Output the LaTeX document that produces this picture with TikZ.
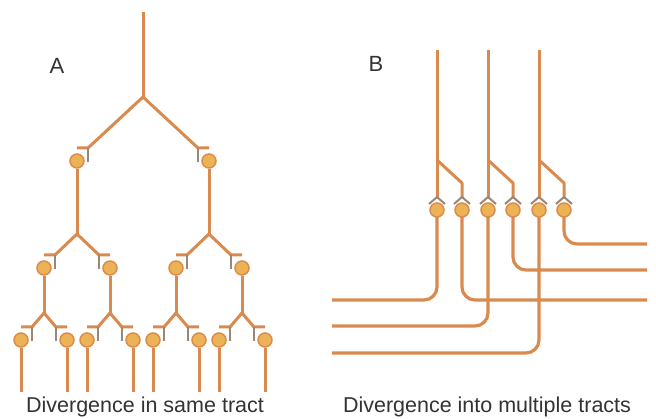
\documentclass[tikz,border=0pt]{standalone}
\usepackage{fontspec}
\setmainfont{Liberation Sans}
\definecolor{axc}{HTML}{D98A4E}
\definecolor{somaf}{HTML}{EBB256}
\definecolor{somad}{HTML}{DB8C4C}
\definecolor{tickc}{HTML}{9C8676}
\definecolor{txt}{HTML}{333333}
% #1 parent coordinate, #2 child x, #3 dir, #4 bar y, #5 soma y, #6 end y, #7 child name
\newcommand\divbranch[7]{%
  \coordinate (#7c) at ({#2-(#3)*11},#4);
  \coordinate (#7b) at (#2,#4);
  \coordinate (#7t) at ({#2-(#3)*11},{#4+14});
  \coordinate (#7e) at (#2,#6);
  \draw[axon] (#1) -- (#7c) -- (#7b);
  \draw[tickl] (#7c) -- (#7t);
  \node[soma] (#7) at (#2,#5) {};
  \draw[axon] (#7.south) -- (#7e);
}
\begin{document}
\begin{tikzpicture}[x=1pt,y=-1pt,
  axon/.style={draw=axc,line width=3pt,line join=round},
  tickl/.style={draw=tickc,line width=2pt},
  soma/.style={circle,draw=somad,fill=somaf,line width=1.5pt,minimum size=14pt,inner sep=0pt},
  lbl/.style={text=txt,font=\fontsize{22}{26}\selectfont},
  captxt/.style={text=txt,font=\fontsize{21.5}{26}\selectfont},
  outl/.style={draw=axc,line width=3.2pt,rounded corners=13pt},
]
\useasboundingbox (0,0) rectangle (656,419);

% ---------------- Panel A ----------------
\node[lbl] (labA) at (57,66) {A};
\coordinate (rtop) at (143,12);
\coordinate (r) at (143,97);
\draw[axon] (rtop) -- (r);
% level 1
\divbranch{r}{77}{-1}{148}{161}{234}{a}
\divbranch{r}{209}{1}{148}{161}{234}{b}
% level 2
\divbranch{ae}{44}{-1}{255}{268}{313}{aa}
\divbranch{ae}{110}{1}{255}{268}{313}{ab}
\divbranch{be}{176}{-1}{255}{268}{313}{ba}
\divbranch{be}{242}{1}{255}{268}{313}{bb}
% level 3
\divbranch{aae}{21}{-1}{327}{340}{392}{aaa}
\divbranch{aae}{67}{1}{327}{340}{392}{aab}
\divbranch{abe}{87}{-1}{327}{340}{392}{aba}
\divbranch{abe}{133}{1}{327}{340}{392}{abb}
\divbranch{bae}{153}{-1}{327}{340}{392}{baa}
\divbranch{bae}{199}{1}{327}{340}{392}{bab}
\divbranch{bbe}{219}{-1}{327}{340}{392}{bba}
\divbranch{bbe}{265}{1}{327}{340}{392}{bbb}
\node[captxt] (capA) at (145,407) {Divergence in same tract};

% ---------------- Panel B ----------------
\node[lbl] (labB) at (376,64) {B};
\foreach \x/\n in {437/p,488/q,539/r}{
  \coordinate (\n top) at (\x,50);
  \coordinate (\n br) at (\x,160);
  \coordinate (\n end) at (\x,197);
  \coordinate (\n d) at ({\x+25},183);
  \coordinate (\n send) at ({\x+25},197);
  \draw[axon] (\n top) -- (\n end);
  \draw[axon] (\n br) -- (\n d) -- (\n send);
  \draw[tickl,line join=round] ({\x-8},204) -- (\n end) -- ({\x+8},204);
  \draw[tickl,line join=round] ({\x+17},204) -- (\n send) -- ({\x+33},204);
}
% output tracts
\coordinate (o1) at (332,300);
\coordinate (o2) at (647,300);
\coordinate (o3) at (332,326);
\coordinate (o4) at (647,270);
\coordinate (o5) at (332,353);
\coordinate (o6) at (647,244);
\foreach \x/\n in {437/s1,462/s2,488/s3,513/s4,539/s5,564/s6}{
  \coordinate (\n c) at (\x,210);
}
\draw[outl] (s1c) |- (o1);
\draw[outl] (s2c) |- (o2);
\draw[outl] (s3c) |- (o3);
\draw[outl] (s4c) |- (o4);
\draw[outl] (s5c) |- (o5);
\draw[outl] (s6c) |- (o6);
\foreach \n in {s1,s2,s3,s4,s5,s6}{
  \node[soma] (\n) at (\n c) {};
}
\node[captxt] (capB) at (487,407) {Divergence into multiple tracts};
\end{tikzpicture}
\end{document}
